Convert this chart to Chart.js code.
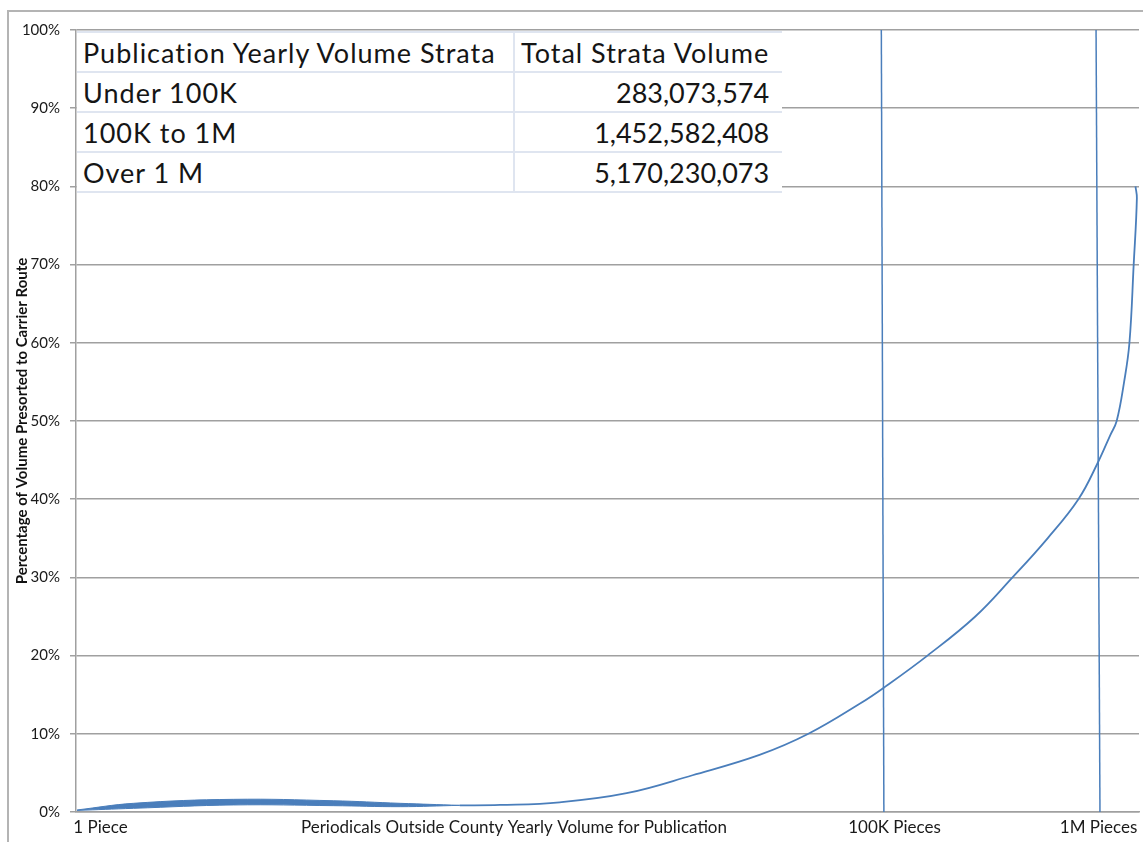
<!DOCTYPE html>
<html>
<head>
<meta charset="utf-8">
<script src="https://cdn.jsdelivr.net/npm/chart.js@4.4.0/dist/chart.umd.min.js"></script>
<style>
body { margin: 0; background: #fff; font-family: Lato, sans-serif; }
#wrap { position: relative; width: 1143px; height: 842px; overflow: hidden; }
#frame { position: absolute; left: 7px; top: 10px; width: 1300px; height: 1000px; border-left: 2px solid #b4b4b4; border-top: 2px solid #b4b4b4; }
canvas { position: absolute; left: 0; top: 0; }
#strata { position: absolute; left: 77px; top: 31px; border-collapse: collapse; background: #fff; font-size: 27px; line-height: 1; color: #151515; }
#strata td { height: 38px; border-top: 2px solid #dfe5f0; border-bottom: 2px solid #dfe5f0; padding: 0 6px; white-space: nowrap; letter-spacing: 1px; }
#strata td.num { text-align: right; padding-right: 13px; border-left: 2px solid #dfe5f0; width: 247px; letter-spacing: 0; }
#strata td.head { text-align: left; padding-left: 6px; letter-spacing: 1px; }
#strata td.name { width: 424px; }
</style>
</head>
<body>
<div id="wrap">
  <div id="frame"></div>
  <canvas id="chart" width="1143" height="842"></canvas>
  <table id="strata"></table>
</div>
<script>
// table in the top left corner
const strataHead = ['Publication Yearly Volume Strata', 'Total Strata Volume'];
const strataNames = ['Under 100K', '100K to 1M', 'Over 1 M'];
const strataVolume = ['283,073,574', '1,452,582,408', '5,170,230,073'];

// x axis labels and where they sit (0..100 along the axis)
const xLabels = ['1 Piece', 'Periodicals Outside County Yearly Volume for Publication', '100K Pieces', '1M Pieces'];
const xLabelAt = [2.3, 41.2, 77.0, 96.2];

// thick part of the curve at the left
const bandX = [0.1, 5.4, 14.8, 24.2, 30.5, 36.1];
const bandTop = [0.26, 1.11, 1.62, 1.44, 1.11, 0.85];
const bandBottom = [0.2, 0.47, 0.9, 0.81, 0.68, 0.85];

// the rest of the curve
const curveX = [36.1, 39.9, 45.5, 51.8, 58.0, 64.3, 68.9, 73.8, 76.1, 80.1, 84.6, 88.1, 91.4, 94.3, 96.1, 97.3, 97.9, 98.6, 99.1, 99.5, 99.8, 99.67];
const curveY = [0.85, 0.9, 1.24, 2.4, 4.7, 7.3, 10.0, 13.9, 16.0, 20.0, 25.0, 30.0, 35.0, 40.0, 44.6, 48.2, 50.0, 55.0, 60.0, 70.0, 78.5, 80.0];

// the two marker lines
const mark100kX = [75.76, 76.0];
const mark1mX = [95.96, 96.33];
const markY = [100, 0];

const blue = '#4a7ebb';
const grey = '#a0a0a0';

let html = '<tr><td class="name">' + strataHead[0] + '</td><td class="num head">' + strataHead[1] + '</td></tr>';
strataNames.forEach((n, i) => {
  html += '<tr><td class="name">' + n + '</td><td class="num">' + strataVolume[i] + '</td></tr>';
});
document.getElementById('strata').innerHTML = html;

const pts = (xs, ys) => xs.map((x, i) => ({ x: x, y: ys[i] }));

new Chart(document.getElementById('chart'), {
  type: 'line',
  data: {
    datasets: [
      { data: pts(bandX, bandTop), borderColor: blue, backgroundColor: blue, borderWidth: 1, fill: '+1', tension: 0.4, pointRadius: 0 },
      { data: pts(bandX, bandBottom), borderColor: blue, borderWidth: 1, fill: false, tension: 0.4, pointRadius: 0 },
      { data: pts(curveX, curveY), borderColor: blue, borderWidth: 1.8, fill: false, tension: 0.4, pointRadius: 0 },
      { data: pts(mark100kX, markY), borderColor: blue, borderWidth: 1.5, fill: false, pointRadius: 0 },
      { data: pts(mark1mX, markY), borderColor: blue, borderWidth: 1.5, fill: false, pointRadius: 0 }
    ]
  },
  options: {
    responsive: false,
    animation: false,
    layout: { padding: { top: 30, right: 4, left: 0, bottom: 0 } },
    plugins: { legend: { display: false }, tooltip: { enabled: false } },
    scales: {
      x: {
        type: 'linear',
        min: 0,
        max: 100,
        afterBuildTicks: s => { s.ticks = xLabelAt.map(v => ({ value: v })); },
        afterFit: s => { s.height = 30; },
        grid: { display: false, drawTicks: false },
        border: { color: grey, width: 1.5 },
        ticks: {
          autoSkip: false,
          maxRotation: 0,
          padding: 5,
          color: '#1a1a1a',
          font: { family: 'Lato', size: 17 },
          callback: (v, i) => xLabels[i]
        }
      },
      y: {
        min: 0,
        max: 100,
        afterFit: s => { s.width = 76; },
        grid: { color: grey, lineWidth: 1.5, tickLength: 6 },
        border: { color: grey, width: 1.5 },
        ticks: {
          stepSize: 10,
          padding: 10,
          color: '#1a1a1a',
          font: { family: 'Lato', size: 15 },
          callback: v => v + '%'
        },
        title: {
          display: true,
          text: 'Percentage of Volume Presorted to Carrier Route',
          color: '#111',
          font: { family: 'Lato', size: 15, weight: 'bold' },
          padding: { top: 13, bottom: 0 }
        }
      }
    }
  }
});
</script>
</body>
</html>
